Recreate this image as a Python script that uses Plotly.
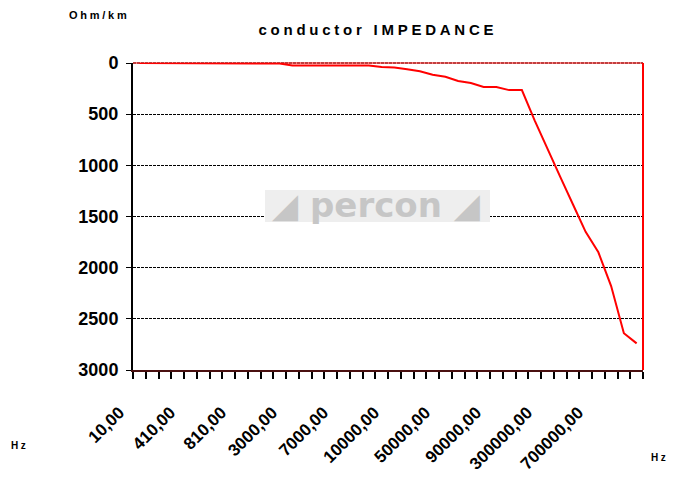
import plotly.graph_objects as go

# measured frequencies (Hz) - one category per point
freqs = [10, 110, 210, 310, 410, 510, 610, 710, 810, 910,
         1000, 2000, 3000, 4000, 5000, 6000, 7000, 8000, 9000, 9500,
         10000, 20000, 30000, 40000, 50000, 60000, 70000, 80000, 90000, 100000,
         150000, 200000, 300000, 400000, 500000, 600000, 700000, 800000, 900000, 1000000]

# conductor impedance (Ohm/km)
impedance = [0, 0, 0, 0, 0, 0, 0, 0, 0, 0,
             0, 5, 25, 25, 25, 25, 25, 25, 25, 40,
             45, 60, 80, 115, 135, 175, 195, 235, 235, 265,
             265, 560, 840, 1110, 1380, 1650, 1850, 2180, 2640, 2740]

y_ticks = [0, 500, 1000, 1500, 2000, 2500, 3000]

font = "Liberation Sans, Arial, sans-serif"
idx = list(range(len(freqs)))
labels = [f"{f:.2f}".replace(".", ",") for f in freqs]
label_idx = idx[::4]

# page has an 8px body margin; plot area sits at x 133..643, y 63..370 on screen
W, H = 667, 478
L, T, PW, PH = 125, 55, 510, 307


def px(x):
    return (x - 133) / PW


def py(y):
    return (370 - y) / PH


def spaced(s, gap="\u2005"):
    # the original renders its captions with loose letter spacing
    return gap.join(s)


fig = go.Figure()
fig.add_trace(go.Scatter(
    x=idx, y=impedance, mode="lines",
    line=dict(color="#ff0000", width=2),
    showlegend=False, hoverinfo="skip"
))

fig.update_layout(
    width=W, height=H,
    margin=dict(l=L, r=W - L - PW, t=T, b=H - T - PH),
    paper_bgcolor="white", plot_bgcolor="white",
    font=dict(family=font, color="black"),
    title=dict(text="<b>" + spaced("conductor IMPEDANCE") + "</b>",
               x=(376 - 8) / W, xanchor="center",
               y=1 - (30 - 8) / H, yanchor="middle", font=dict(size=15)),
)

fig.update_xaxes(
    range=[-0.5, len(freqs) - 0.5],
    tickmode="array", tickvals=label_idx,
    ticktext=[f"<b>{labels[i]}</b>" for i in label_idx],
    tickangle=-45, tickfont=dict(size=17),
    ticks="", ticklabelshift=-20, ticklabelstandoff=24,
    minor=dict(tick0=-0.5, dtick=1, ticks="outside", ticklen=7,
               tickwidth=2, tickcolor="black", showgrid=False),
    showgrid=False, zeroline=False,
    showline=True, linecolor="#4a1010", linewidth=2,
)

fig.update_yaxes(
    range=[3000, 0], tickmode="array", tickvals=y_ticks,
    ticktext=[f"<b>{v}</b>" for v in y_ticks],
    tickfont=dict(size=18), ticklabelstandoff=4,
    ticks="outside", ticklen=5, tickcolor="black",
    showgrid=True, gridcolor="black", griddash="3px,1px", gridwidth=1,
    zeroline=False, showline=True, linecolor="black", linewidth=2,
)

# plot area border (red on top and right)
fig.add_shape(type="line", xref="paper", yref="paper", x0=0, x1=1, y0=1, y1=1,
              line=dict(color="black", width=1, dash="3px,1px"), layer="below")
fig.add_shape(type="line", xref="paper", yref="paper", x0=0, x1=1, y0=1, y1=1,
              line=dict(color="#ff0000", width=1))
fig.add_shape(type="line", xref="paper", yref="paper", x0=1, x1=1, y0=0, y1=1,
              line=dict(color="#ff0000", width=2))

# percon watermark
fig.add_shape(type="rect", xref="paper", yref="paper",
              x0=px(265), x1=px(490), y0=py(222), y1=py(190),
              fillcolor="#eeeeee", line=dict(width=0), layer="above")
fig.add_annotation(xref="paper", yref="paper", x=px(376), y=py(205),
                   text="<b>◢ percon ◢</b>", showarrow=False,
                   font=dict(family="DejaVu Sans, sans-serif", size=34, color="#c6c6c6"))

# unit labels
fig.add_annotation(xref="paper", yref="paper", x=px(98), y=py(15),
                   xanchor="center", yanchor="middle", showarrow=False,
                   text="<b>" + spaced("Ohm/km") + "</b>", font=dict(size=11))
fig.add_annotation(xref="paper", yref="paper", x=px(18), y=py(445),
                   xanchor="center", yanchor="middle", showarrow=False,
                   text="<b>" + spaced("Hz") + "</b>", font=dict(size=10))
fig.add_annotation(xref="paper", yref="paper", x=px(658), y=py(457),
                   xanchor="center", yanchor="middle", showarrow=False,
                   text="<b>" + spaced("Hz") + "</b>", font=dict(size=10))

fig.write_html("out.html")
